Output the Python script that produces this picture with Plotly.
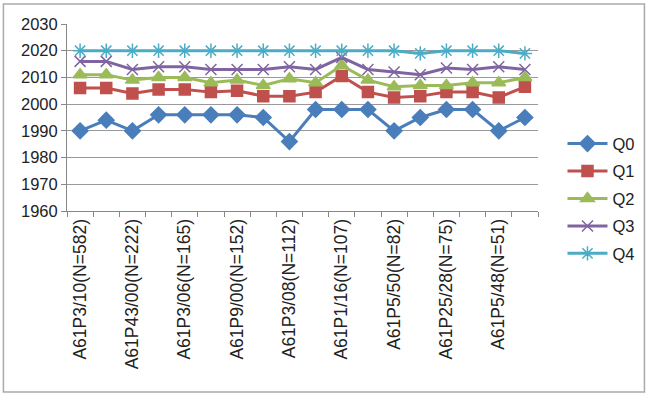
import plotly.graph_objects as go

tick_labels = ["A61P3/10(N=582)", "A61P43/00(N=222)", "A61P3/06(N=165)", "A61P9/00(N=152)",
               "A61P3/08(N=112)", "A61P1/16(N=107)", "A61P5/50(N=82)", "A61P25/28(N=75)",
               "A61P5/48(N=51)"]
positions = list(range(1, 19))
label_positions = positions[::2]

q0 = [1990, 1994, 1990, 1996, 1996, 1996, 1996, 1995, 1986, 1998, 1998, 1998, 1990, 1995, 1998, 1998, 1990, 1995]
q1 = [2006, 2006, 2004, 2005.5, 2005.5, 2004.5, 2005, 2003, 2003, 2004.5, 2010.5, 2004.5, 2002.5, 2003, 2004.5, 2004.5, 2002.5, 2006.5]
q2 = [2011, 2011, 2009, 2010, 2010, 2008, 2009, 2007, 2009.5, 2008, 2014.5, 2009, 2006.5, 2007, 2007, 2008, 2008, 2010]
q3 = [2016, 2016, 2013, 2014, 2014, 2013, 2013, 2013, 2014, 2013, 2017.5, 2013, 2012, 2011, 2013.5, 2013, 2014, 2013]
q4 = [2020, 2020, 2020, 2020, 2020, 2020, 2020, 2020, 2020, 2020, 2020, 2020, 2020, 2019, 2020, 2020, 2020, 2019]

series = [
    ("Q0", q0, "#4A7EBB", "diamond", 12),
    ("Q1", q1, "#C0504D", "square", 11),
    ("Q2", q2, "#9BBB59", "triangle-up", 12),
    ("Q3", q3, "#8064A2", "x-thin-open", 11),
    ("Q4", q4, "#4BACC6", "asterisk-open", 12),
]

fig = go.Figure()
for name, vals, color, sym, size in series:
    fig.add_trace(go.Scatter(
        x=positions, y=vals, name=name, legendgroup=name, mode="lines+markers",
        line=dict(color=color, width=3),
        marker=dict(symbol=sym, size=size, color=color, line=dict(color=color, width=1.5)),
    ))

fig.update_layout(
    width=652, height=397,
    margin=dict(l=67, r=112, t=24, b=186),
    paper_bgcolor="white", plot_bgcolor="white",
    font=dict(family="Liberation Sans, Arial, sans-serif", size=16, color="#222"),
    showlegend=True,
    legend=dict(x=1.052, y=0.065, xanchor="left", yanchor="middle",
                font=dict(size=16.5), tracegroupgap=3, itemwidth=40,
                bgcolor="rgba(0,0,0,0)"),
    shapes=[dict(type="rect", xref="paper", yref="paper",
                 x0=-0.135, x1=1.226, y0=-0.968, y1=1.107,
                 line=dict(color="#AAAAAA", width=1.5), fillcolor="rgba(0,0,0,0)", layer="below")],
)
fig.update_xaxes(
    range=[0.5, 18.5], tickvals=label_positions, ticktext=tick_labels,
    tickangle=-90, ticks="", showgrid=False, zeroline=False,
    showline=True, linecolor="#888888", linewidth=1,
    tickfont=dict(size=17.5),
    minor=dict(tick0=0.5, dtick=1, ticks="outside", ticklen=5, tickcolor="#888888", showgrid=False),
)
fig.update_yaxes(
    range=[1960, 2030], dtick=10, ticks="outside", ticklen=5, tickcolor="#888888",
    showgrid=True, gridcolor="#999999", gridwidth=1, zeroline=False,
    showline=True, linecolor="#888888", linewidth=1,
    tickfont=dict(size=16.5),
)

fig.write_html("out.html", config={"displayModeBar": False},
               post_script="document.body.style.margin='0';")
